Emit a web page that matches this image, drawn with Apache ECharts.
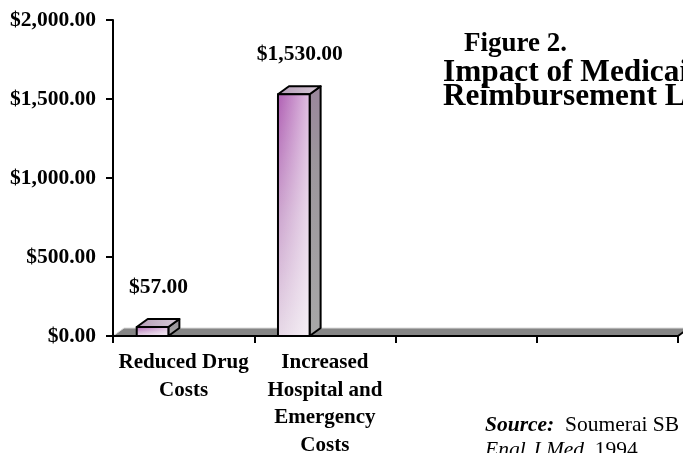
<!DOCTYPE html>
<html>
<head>
<meta charset="utf-8">
<style>
html,body{margin:0;padding:0;background:#fff;}
#chart{width:683px;height:453px;}
</style>
<script src="https://cdn.jsdelivr.net/npm/echarts@6/dist/echarts.min.js"></script>
</head>
<body>
<div id="chart"></div>
<script>
// ---- data ----
const categories = ['Reduced Drug\nCosts', 'Increased\nHospital and\nEmergency\nCosts', '', ''];
const costValues = [57, 1530];
const yTicks = [0, 500, 1000, 1500, 2000];

const FONT = '"Liberation Serif", "Times New Roman", serif';
const money = v => '$' + Number(v).toLocaleString('en-US', {minimumFractionDigits: 2, maximumFractionDigits: 2});

const chart = echarts.init(document.getElementById('chart'), null, {renderer: 'canvas'});

const barData = costValues.map((v, i) => [i, v]);

function renderBar(params, api) {
  const idx = api.value(0), val = api.value(1);
  const top = api.coord([idx, val]);
  const base = api.coord([idx, 0]);
  const bw = api.size([1, 0])[0];
  const x0 = base[0] - bw / 2 + bw * 0.168;
  const w = bw * 0.224;
  const x1 = x0 + w;
  const dx = 11, dy = -8;
  const yT = top[1], yB = base[1];
  const stroke = {stroke: '#000', lineWidth: 2, lineJoin: 'round'};
  return {
    type: 'group',
    children: [
      {
        type: 'polygon',
        shape: {points: [[x1, yB], [x1 + dx, yB + dy], [x1 + dx, yT + dy], [x1, yT]]},
        style: Object.assign({
          fill: new echarts.graphic.LinearGradient(0, 0, 0, 1, [
            {offset: 0, color: '#9a869c'},
            {offset: 0.3, color: '#9c969c'},
            {offset: 1, color: '#a8a8a8'}
          ])
        }, stroke)
      },
      {
        type: 'polygon',
        shape: {points: [[x0, yT], [x0 + dx, yT + dy], [x1 + dx, yT + dy], [x1, yT]]},
        style: Object.assign({
          fill: new echarts.graphic.LinearGradient(0, 0, 1, 0, [
            {offset: 0, color: '#b49cb6'},
            {offset: 1, color: '#d8cad8'}
          ])
        }, stroke)
      },
      {
        type: 'rect',
        shape: {x: x0, y: yT, width: w, height: yB - yT},
        style: {
          fill: new echarts.graphic.LinearGradient(0, 0, 0, 1, [
            {offset: 0, color: '#b060b4'},
            {offset: 0.5, color: '#cca4ce'},
            {offset: 1, color: '#e6d8e6'}
          ])
        }
      },
      {
        type: 'rect',
        shape: {x: x0, y: yT, width: w, height: yB - yT},
        style: {
          fill: new echarts.graphic.LinearGradient(0, 0, 1, 0, [
            {offset: 0, color: 'rgba(255,255,255,0)'},
            {offset: 1, color: 'rgba(255,255,255,0.6)'}
          ])
        }
      },
      {
        type: 'rect',
        shape: {x: x0, y: yT, width: w, height: yB - yT},
        style: Object.assign({fill: 'none'}, stroke)
      },
      {
        type: 'text',
        style: {
          x: (x0 + x1) / 2 + 6,
          y: yT + dy - 32,
          text: money(val),
          fill: '#000',
          font: 'bold 21.5px ' + FONT,
          align: 'center',
          verticalAlign: 'middle'
        }
      }
    ]
  };
}

function renderFloor(params, api) {
  const l = api.coord([0, 0]);
  const bw = api.size([1, 0])[0];
  const xL = l[0] - bw / 2;
  const xR = xL + bw * categories.length;
  const y = l[1];
  const dx = 11, dy = -8;
  return {
    type: 'group',
    silent: true,
    children: [
      {
        type: 'polygon',
        shape: {points: [[xL, y], [xL + dx, y + dy], [xR + dx, y + dy], [xR, y]]},
        style: {fill: '#858585', stroke: '#dcdcdc', lineWidth: 1}
      },
      {
        type: 'line',
        shape: {x1: xR, y1: y, x2: xR + dx, y2: y + dy},
        style: {stroke: '#000', lineWidth: 2}
      }
    ]
  };
}

const option = {
  backgroundColor: '#ffffff',
  animation: false,
  grid: {left: 113, right: 5, top: 20, bottom: 117, containLabel: false, outerBoundsMode: 'none'},
  xAxis: {
    type: 'category',
    data: categories,
    boundaryGap: true,
    axisLine: {show: true, lineStyle: {color: '#000', width: 2}},
    axisTick: {show: true, length: 7, lineStyle: {color: '#000', width: 2}, alignWithLabel: false},
    axisLabel: {
      color: '#000', fontFamily: FONT, fontWeight: 'bold', fontSize: 21, lineHeight: 27.5,
      margin: 13, interval: 0, align: 'center'
    },
    splitLine: {show: false},
    z: 5
  },
  yAxis: {
    type: 'value',
    min: yTicks[0],
    max: yTicks[yTicks.length - 1],
    interval: 500,
    axisLine: {show: true, lineStyle: {color: '#000', width: 2}},
    axisTick: {show: true, length: 7, lineStyle: {color: '#000', width: 2}},
    axisLabel: {
      color: '#000', fontFamily: FONT, fontWeight: 'bold', fontSize: 21.5, margin: 17,
      formatter: v => money(v)
    },
    splitLine: {show: false},
    z: 5
  },
  series: [
    {
      type: 'custom',
      renderItem: renderFloor,
      data: [[0, 0]],
      z: 1,
      clip: false
    },
    {
      type: 'custom',
      renderItem: renderBar,
      data: barData,
      z: 3,
      clip: false
    }
  ],
  graphic: [
    {
      type: 'text', x: 464, y: 44.5,
      style: {text: 'Figure 2.', font: 'bold 27px ' + FONT, fill: '#000', verticalAlign: 'middle'}
    },
    {
      type: 'text', x: 443, y: 73,
      style: {text: 'Impact of Medicaid Drug', font: 'bold 31.3px ' + FONT, fill: '#000', verticalAlign: 'middle'}
    },
    {
      type: 'text', x: 443, y: 97,
      style: {text: 'Reimbursement Limits', font: 'bold 31.3px ' + FONT, fill: '#000', verticalAlign: 'middle'}
    },
    {
      type: 'text', x: 485, y: 425,
      style: {
        text: '{b|Source:}  Soumerai SB et al. N',
        font: '21.5px ' + FONT, fill: '#000', verticalAlign: 'middle',
        rich: {b: {font: 'italic bold 21.5px ' + FONT, fill: '#000'}}
      }
    },
    {
      type: 'text', x: 485, y: 450,
      style: {
        text: '{i|Engl J Med.} 1994',
        font: '21.5px ' + FONT, fill: '#000', verticalAlign: 'middle',
        rich: {i: {font: 'italic 21.5px ' + FONT, fill: '#000'}}
      }
    }
  ]
};

chart.setOption(option);
</script>
</body>
</html>
